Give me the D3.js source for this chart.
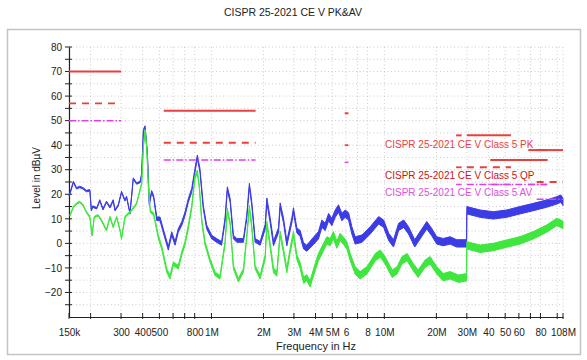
<!DOCTYPE html>
<html><head><meta charset="utf-8">
<script src="https://cdn.jsdelivr.net/npm/d3@7"></script>
<style>body{margin:0;background:#fff;} svg{display:block;font-family:"Liberation Sans",Arial,sans-serif;}</style>
</head><body><svg id="c" width="587" height="360"></svg>
<script>
const title = "CISPR 25-2021 CE V PK&AV";
const xLabel = "Frequency in Hz";
const yLabel = "Level in dBµV";
// x ticks (MHz) and their labels
const xTicks = [0.15,0.2,0.3,0.4,0.5,0.6,0.7,0.8,1,2,3,4,5,6,7,8,10,20,30,40,50,60,70,80,100,108];
const xTickLabels = ["150k","","300","400","500","","","800","1M","2M","3M","4M","5M","6","","8","10M","20M","30M","40","50","60","","80","","108M"];
const yTicks = [-20,-10,0,10,20,30,40,50,60,70,80];
const yMinorTicks = [-25,-15,-5,5,15,25,35,45,55,65,75];

// Limit lines (MHz start/stop, dBµV)
const pkStart = [0.15,0.53,5.9,26,30,41,68,76];
const pkStop  = [0.3,1.8,6.2,28,54,88,87,108];
const pkLevel = [70,54,53,44,44,34,38,38];
const qpStart = [0.15,0.53,5.9,26,30,76];
const qpStop  = [0.3,1.8,6.2,28,54,108];
const qpLevel = [57,41,40,31,31,25];
const avStart = [0.15,0.53,5.9,26,30,41,68,76];
const avStop  = [0.3,1.8,6.2,28,54,88,87,108];
const avLevel = [50,34,33,24,24,24,24,18];
const legendNames = ["CISPR 25-2021 CE V Class 5 PK","CISPR 25-2021 CE V Class 5 QP","CISPR 25-2021 CE V Class 5 AV"];

// Peak trace (blue): frequency MHz, level dBµV, band thickness dB
const pkFreq = [0.150,0.152,0.159,0.166,0.173,0.181,0.189,0.198,0.202,0.206,0.217,0.226,0.236,0.247,0.259,0.270,0.277,0.289,0.302,0.316,0.323,0.338,0.353,0.369,0.387,0.395,0.404,0.413,0.426,0.437,0.451,0.463,0.483,0.504,0.527,0.563,0.589,0.616,0.643,0.673,0.703,0.735,0.769,0.803,0.829,0.858,0.897,0.938,1.003,1.071,1.145,1.198,1.236,1.283,1.340,1.401,1.531,1.600,1.657,1.711,1.789,1.913,2.045,2.092,2.186,2.285,2.442,2.497,2.610,2.729,2.917,2.982,3.118,3.259,3.41,3.56,3.89,4.16,4.35,4.55,4.76,4.97,5.20,5.43,5.68,5.94,6.21,6.49,6.78,7.42,8.29,9.27,9.91,10.6,11.3,12.1,12.95,13.8,15.0,16.1,17.6,18.8,20.1,21.9,24.0,26.2,29.9,30.0,35.8,42.7,51.0,60.9,72.7,86.9,99.3,105,108];
const pkVal  = [19.6,20.4,25,22.4,23,22.4,21.3,21.6,13.5,15,14.3,17.5,13.9,16.9,14.7,17.5,13.5,15.5,20.9,17.5,18.9,12.2,26.4,24.4,25,28.4,46,47.5,36.6,16,21,19,10,10,5,-2,4,0,5.3,8,12,17.5,21.6,29.8,35.2,29.8,14.8,6.7,2.6,1.2,0,9.4,22.3,17.5,2.6,1.2,1.2,10.7,23.7,16.2,1.2,0,6.7,17.5,9.4,0,5.3,15.5,9.4,0,9.4,13.5,5.3,4,-1,-2,1,3.3,8,6.7,10.7,8.7,12.1,14.2,10.7,12.1,11,5.3,1.2,1.9,5.3,9.4,8,2.6,0,6.7,8,5.3,0,3.3,7.4,4.6,1.2,0.5,1.2,0,0,13.5,12.1,11.4,12.1,13.5,14.8,16.2,17.5,18.2,16.9];
const pkBand = [0.6,0.6,0.6,0.6,0.6,0.6,0.6,0.6,0.6,0.6,0.6,0.6,0.6,0.6,0.6,0.6,0.6,0.6,0.6,0.6,0.6,0.6,0.6,0.6,0.6,0.6,0.8,0.8,0.8,1,1,1,1.5,1.5,1.5,1.5,1.5,1.5,1.5,1.5,1.5,1.5,1.5,1.5,1.5,1.5,1.5,1.5,1.5,1.5,1.5,1.5,1.5,1.5,1.5,1.5,1.5,1.5,1.5,1.5,1.5,1.5,2,2,2,2,2,2,2,2,2,2,2,2.5,2.5,2.5,3,3,3,3,3,3,3,3,3,3,3,3,3,3,3,3,3,3,3,3,3,3,3,3,3,3,3,3,3,3,3,3,3,3,3,3,3,3,3,3,3,3,3];

// Average trace (green)
const avFreq = [0.152,0.159,0.166,0.173,0.181,0.189,0.198,0.204,0.210,0.221,0.231,0.247,0.259,0.270,0.283,0.296,0.302,0.316,0.330,0.346,0.369,0.395,0.404,0.413,0.422,0.432,0.443,0.463,0.493,0.515,0.551,0.576,0.602,0.643,0.673,0.703,0.735,0.769,0.803,0.829,0.851,0.878,0.918,0.981,1.049,1.120,1.198,1.236,1.283,1.340,1.432,1.531,1.600,1.657,1.711,1.789,1.913,2.045,2.092,2.165,2.285,2.389,2.497,2.610,2.729,2.853,2.982,3.118,3.259,3.41,3.56,3.72,3.98,4.16,4.45,4.65,4.86,5.08,5.31,5.55,5.81,6.07,6.35,6.78,7.25,7.93,8.87,9.48,10.1,11.1,11.85,12.66,13.54,14.7,15.7,17.2,18.4,20.1,21.9,24.0,26.8,29.9,30.0,35.8,42.7,51.0,60.9,72.7,86.9,99.3,105,108];
const avVal  = [11.4,14.8,16.2,16.9,15.5,12.8,10.7,3.3,10.7,11.4,9.4,5.3,10.7,6.7,10.7,5.3,1.9,10.7,12.1,13.5,16.2,24.4,39.3,46,39.3,23,13,12,2.6,-1.5,-11,-13.8,-8.3,-9.7,-4.2,0,6.7,14.8,27,29.1,23,9.4,0,-6.9,-12.4,-13.8,0,13.5,8,-9.7,-15,-11,2.6,14.8,6.7,-9.7,-13.8,-5.6,8,1.2,-11,-12.4,4,-2.9,-11,-2.9,4,-5.6,-9,-15,-14,-16.5,-9.7,-5.6,-1.5,1.2,0.5,3.3,-0.5,2.6,1,-0.8,-5.6,-11,-13,-11,-5.6,-4.2,-6.9,-12.4,-11,-6.9,-5.6,-9.7,-12.4,-8.3,-6.9,-11,-13.8,-13,-14.4,-13.8,-0.8,-2.2,-1.5,-0.1,1.2,3.3,6,8.7,8,7.5];
const avBand = [0.6,0.6,0.6,0.6,0.6,0.6,0.6,0.6,0.6,0.6,0.6,0.6,0.6,0.6,0.6,0.6,0.6,0.6,0.6,0.6,0.6,0.6,0.8,0.8,0.8,0.8,1,1,1.5,1.5,1.5,1.5,1.5,1.5,1.5,1.5,1.5,1.5,1.5,1.5,1.5,1.5,1.5,1.5,1.5,1.5,1.5,1.5,1.5,1.5,1.5,1.5,1.5,1.5,1.5,1.5,1.5,2,2,2,2,2,2,2,2,2,2,2,2.5,2.5,2.5,2.5,3,3,3,3,3,3,3,3,3,3,3,3,3,3,3,3,3,3,3,3,3,3,3,3,3,3,3,3,3,3,3,3,3,3,3,3,3,3,3,3];

const svg = d3.select("#c");
const x = d3.scaleLog().domain([0.15,108]).range([69,563]);
const y = d3.scaleLinear().domain([-30,80]).range([317,47]);

// frame
svg.append("rect").attr("x",7.5).attr("y",29.5).attr("width",573).attr("height",325)
  .attr("fill","#fff").attr("stroke","#c4c4c4").attr("stroke-width",1.5);

svg.append("text").attr("x",293).attr("y",16).attr("text-anchor","middle")
  .attr("font-size",10.5).attr("fill","#222").text(title);

// grid
const grid = svg.append("g").attr("stroke","#c0c0c0").attr("stroke-width",0.8).attr("stroke-dasharray","1,2.5");
grid.selectAll("line.v").data(xTicks).join("line").attr("class","v")
  .attr("x1",d=>x(d)).attr("x2",d=>x(d)).attr("y1",y(80)).attr("y2",y(-30));
grid.selectAll("line.h").data(yTicks.concat(yMinorTicks)).join("line").attr("class","h")
  .attr("x1",x(0.15)).attr("x2",x(108)).attr("y1",d=>y(d)).attr("y2",d=>y(d));

// axes
const xAxis = d3.axisBottom(x).tickValues(xTicks).tickSize(0).tickFormat((d,i)=>xTickLabels[i]);
const gx = svg.append("g").attr("transform",`translate(0,${y(-30)})`).call(xAxis);
gx.select(".domain").attr("stroke","#222").attr("stroke-width",1.2);
gx.selectAll("text").attr("font-size",10).attr("fill","#222").attr("dy",0).attr("y",19);
svg.append("g").selectAll("line").data(xTicks).join("line")
  .attr("x1",d=>x(d)).attr("x2",d=>x(d)).attr("y1",y(-30)-4).attr("y2",y(-30)+2)
  .attr("stroke","#222").attr("stroke-width",1);

const yAxis = d3.axisLeft(y).tickValues(yTicks).tickSize(0).tickPadding(7);
const gy = svg.append("g").attr("transform",`translate(${x(0.15)},0)`).call(yAxis);
gy.select(".domain").attr("stroke","#222").attr("stroke-width",1.2);
gy.selectAll("text").attr("font-size",10).attr("fill","#222");
svg.append("g").selectAll("line").data(yTicks.concat(yMinorTicks)).join("line")
  .attr("x1",x(0.15)-4).attr("x2",x(0.15)+3).attr("y1",d=>y(d)).attr("y2",d=>y(d))
  .attr("stroke","#222").attr("stroke-width",1);

svg.append("text").attr("x",316).attr("y",350).attr("text-anchor","middle")
  .attr("font-size",11).attr("fill","#222").text(xLabel);
svg.append("text").attr("transform","translate(40,178) rotate(-90)").attr("text-anchor","middle")
  .attr("font-size",10).attr("fill","#222").text(yLabel);

// traces
function band(freq,val,bw){ return freq.map((f,i)=>({f,v:val[i],s:bw[i]})); }
const area = d3.area().x(d=>x(d.f)).y0(d=>y(d.v-d.s/2)).y1(d=>y(d.v+d.s/2)).curve(d3.curveLinear);
const plot = svg.append("g");
plot.append("path").datum(band(pkFreq,pkVal,pkBand)).attr("d",area)
  .attr("fill","#3c3ce6").attr("stroke","#3c3ce6").attr("stroke-width",1).attr("stroke-linejoin","round");
plot.append("path").datum(band(avFreq,avVal,avBand)).attr("d",area)
  .attr("fill","#3ee63e").attr("stroke","#3ee63e").attr("stroke-width",1).attr("stroke-linejoin","round");

// limits
function segs(s,e,l){ return s.map((d,i)=>({s:d,e:e[i],l:l[i]})); }
function drawLimits(data,color,width,dash){
  plot.append("g").selectAll("line").data(data).join("line")
   .attr("x1",d=>x(d.s)).attr("x2",d=>x(d.e)).attr("y1",d=>y(d.l)).attr("y2",d=>y(d.l))
   .attr("stroke",color).attr("stroke-width",width).attr("stroke-dasharray",dash);
}
drawLimits(segs(pkStart,pkStop,pkLevel),"#e8403f",2,null);
drawLimits(segs(qpStart,qpStop,qpLevel),"#e8403f",1.8,"7,6");
drawLimits(segs(avStart,avStop,avLevel),"#e040e8",1.5,"7,2,1.5,2");

// legend labels
const legColors = ["#e8403f","#c81414","#e050e0"];
const legY = [148,179,196];
svg.append("g").selectAll("text").data(legendNames).join("text")
  .attr("x",385).attr("y",(d,i)=>legY[i]).attr("font-size",10).attr("fill",(d,i)=>legColors[i]).text(d=>d);
</script></body></html>
